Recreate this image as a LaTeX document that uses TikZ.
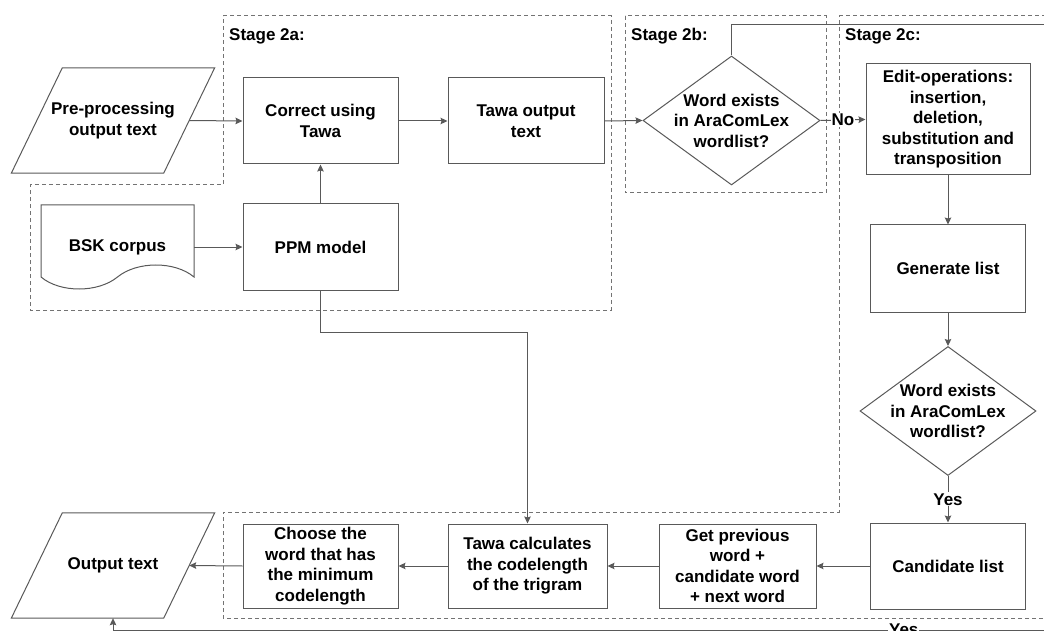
\documentclass[tikz,border=0pt]{standalone}
\usepackage{fontspec}
\setmainfont{Liberation Sans}
\usetikzlibrary{shapes.geometric,arrows.meta,calc}
\begin{document}
\begin{tikzpicture}[x=1pt,y=-1pt,
  font=\fontsize{17}{20.5}\selectfont\bfseries,
  line/.style={draw=black!65, line width=1pt},
  arr/.style={line, -{Stealth[length=7pt,width=6.5pt,inset=1pt]}},
  box/.style={rectangle, draw=black!65, line width=1pt, align=center, inner sep=0pt},
  ghost/.style={rectangle, align=center, inner sep=0pt},
  dia/.style={diamond, draw=black!65, line width=1pt, inner sep=0pt, minimum width=177pt, minimum height=129pt},
  stagebox/.style={draw=black!55, line width=1pt, dash pattern=on 4pt off 3pt},
  stagelbl/.style={anchor=west, inner sep=0pt},
  lbl/.style={fill=white, inner sep=1pt}]
\useasboundingbox (0,0) rectangle (1044,631);
\clip (0,0) rectangle (1044,631);

% stage regions
\draw[stagebox] (223,16) -- (611,16) -- (611,310) -- (30,310) -- (30,185) -- (223,185) -- cycle;
\draw[stagebox] (625,16) rectangle (826,193);
\draw[stagebox] (839,16) -- (1060,16) -- (1060,618) -- (223,618) -- (223,512) -- (839,512) -- cycle;
\node[stagelbl] (s2a) at (229,36) {Stage 2a:};
\node[stagelbl] (s2b) at (631,36) {Stage 2b:};
\node[stagelbl] (s2c) at (845,36) {Stage 2c:};

% input parallelogram
\node[ghost, minimum width=152pt, minimum height=105pt] (pre) at (113,120.5) {Pre-processing\\output text};
\draw[line] ([xshift=25.5pt]pre.north west) -- ([xshift=25.5pt]pre.north east)
  -- ([xshift=-25.5pt]pre.south east) -- ([xshift=-25.5pt]pre.south west) -- cycle;

% BSK corpus document
\node[ghost, minimum width=153pt, minimum height=72pt] (bsk) at (117.5,247) {BSK corpus};
\draw[line] (41,277) -- (41,205) -- (194,205) -- (194,277)
  .. controls (175,261) and (137,261) .. (117.5,277)
  .. controls (98,293) and (60,293) .. (41,277) -- cycle;

% stage 2a boxes
\node[box, minimum width=155pt, minimum height=86pt] (corr) at (320.5,121) {Correct using\\Tawa};
\node[box, minimum width=156pt, minimum height=86pt] (tout) at (526,121) {Tawa output\\text};
\node[box, minimum width=155pt, minimum height=86pt] (ppm) at (320.5,247) {PPM model};

% stage 2b
\node[dia, label={[align=center, inner sep=0pt]center:Word exists\\in AraComLex\\wordlist?}] (d1) at (731.5,120.5) {};

% stage 2c
\node[box, minimum width=164pt, minimum height=111pt] (edit) at (948,119.5) {Edit-operations:\\insertion,\\deletion,\\substitution and\\transposition};
\node[box, minimum width=155pt, minimum height=87pt] (gen) at (948,268.5) {Generate list};
\node[dia, minimum width=176pt, minimum height=129pt, label={[align=center, inner sep=0pt]center:Word exists\\in AraComLex\\wordlist?}] (d2) at (948,411) {};
\node[box, minimum width=155pt, minimum height=86pt] (cand) at (948,566) {Candidate list};

% bottom row
\node[box, minimum width=157pt, minimum height=84pt] (prev) at (737.5,566) {Get previous\\word +\\candidate word\\+ next word};
\node[box, minimum width=159pt, minimum height=84pt] (calc) at (527.5,566) {Tawa calculates\\the codelength\\of the trigram};
\node[box, minimum width=155pt, minimum height=84pt] (choose) at (320.5,566) {Choose the\\word that has\\the minimum\\codelength};

% output parallelogram
\node[ghost, minimum width=152pt, minimum height=105pt] (out) at (113,565.5) {Output text};
\draw[line] ([xshift=25.5pt]out.north west) -- ([xshift=25.5pt]out.north east)
  -- ([xshift=-25.5pt]out.south east) -- ([xshift=-25.5pt]out.south west) -- cycle;

% free ends beyond the right edge
\coordinate (yesTop) at (1060,25);
\coordinate (yesBot) at (1060,630);

% connectors
\draw[arr] (pre.east) -- (corr.west);
\draw[arr] (corr.east) -- (tout.west);
\draw[arr] (tout.east) -- (d1.west);
\draw[arr] (bsk.east) -- (ppm.west);
\draw[arr] (ppm.north) -- (corr.south);
\draw[arr] (ppm.south) -- ++(0,42) -| (calc.north);
\draw[arr] (d1.east) -- node[lbl] {No} (edit.west);
\draw[arr] (edit.south) -- (gen.north);
\draw[arr] (gen.south) -- (d2.north);
\draw[arr] (d2.south) -- node[lbl] {Yes} (cand.north);
\draw[arr] (cand.west) -- (prev.east);
\draw[arr] (prev.west) -- (calc.east);
\draw[arr] (calc.west) -- (choose.east);
\draw[arr] (choose.west) -- (out.east);
\draw[line] (d1.north) |- (yesTop);
\draw[arr] (yesBot) -- node[lbl, pos=0.165] {Yes} (yesBot -| out.south) -- (out.south);
\end{tikzpicture}
\end{document}
